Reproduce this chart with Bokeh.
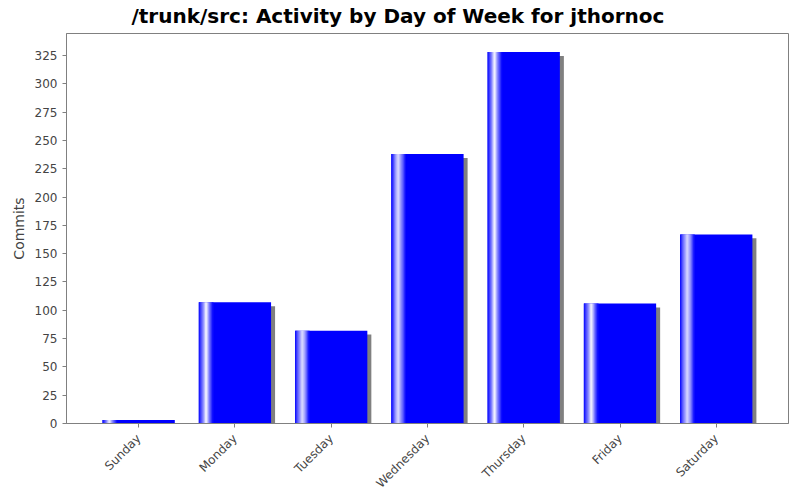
import math
from bokeh.plotting import figure
from bokeh.models import ColumnDataSource, FactorRange, Range1d, SingleIntervalTicker
from bokeh.transform import dodge
from bokeh.embed import file_html
from bokeh.resources import INLINE

days = ["Sunday", "Monday", "Tuesday", "Wednesday", "Thursday", "Friday", "Saturday"]
commits = [3, 107, 82, 238, 328, 106, 167]

title = "/trunk/src: Activity by Day of Week for jthornoc"
y_label = "Commits"

FONT = "DejaVu Sans"
BAR_W = 0.75
SHADOW_DX = 4 / 96.0      # ~4px to the right
SHADOW_DY = 3.5           # ~4px lower, in data units

src = ColumnDataSource(data=dict(
    day=days,
    commits=commits,
    shadow=[c - SHADOW_DY for c in commits],
))

p = figure(
    x_range=FactorRange(factors=days, range_padding=0.25, range_padding_units="absolute"),
    y_range=Range1d(0, max(commits) * 1.05),
    width=800, height=500,
    output_backend="svg", toolbar_location=None,
    min_border_left=66, min_border_right=12, min_border_bottom=77, min_border_top=33,
)

# shadow
p.vbar(x=dodge("day", SHADOW_DX, range=p.x_range), top="shadow", bottom=0, width=BAR_W,
       fill_color="#808080", line_color=None, source=src)
# main bar
p.vbar(x="day", top="commits", bottom=0, width=BAR_W,
       fill_color="#0000ff", line_color=None, source=src)

# gradient highlight at left of each bar (blue -> white -> blue over first 20%)
n = 16
region = 0.2 * BAR_W
sw = region / n
for k in range(n):
    t = (k + 0.5) / n
    f = t / 0.5 if t < 0.5 else (1 - t) / 0.5
    r = int(round(255 * f))
    col = "#%02x%02xff" % (r, r)
    off = -BAR_W / 2 + (k + 0.5) * sw
    p.vbar(x=dodge("day", off, range=p.x_range), top="commits", bottom=0, width=sw * 1.3,
           fill_color=col, line_color=None, source=src)

p.title.text = title
p.title.text_font = FONT
p.title.text_font_size = "20px"
p.title.text_font_style = "bold"
p.title.align = "left"
p.title.offset = 65
p.title.text_color = "#000000"
p.title.standoff = 7
p.title.vertical_align = "top"

p.xgrid.visible = False
p.ygrid.visible = False
p.outline_line_color = "#808080"
p.outline_line_width = 1
p.background_fill_color = "white"
p.border_fill_color = "white"

for ax in (p.xaxis[0], p.yaxis[0]):
    ax.axis_line_color = "#808080"
    ax.major_tick_line_color = "#808080"
    ax.major_tick_out = 4
    ax.major_tick_in = 0
    ax.minor_tick_line_color = None
    ax.major_label_text_font = FONT
    ax.major_label_text_font_size = "12px"
    ax.major_label_text_color = "#444444"

p.yaxis.ticker = SingleIntervalTicker(interval=25)
p.yaxis.axis_label = y_label
p.yaxis.axis_label_text_font = FONT
p.yaxis.axis_label_text_font_size = "14px"
p.yaxis.axis_label_text_font_style = "normal"
p.yaxis.axis_label_text_color = "#444444"

p.xaxis.major_label_orientation = math.pi / 4
p.xaxis.major_label_standoff = 9

open("out.html", "w").write(file_html(p, INLINE))
